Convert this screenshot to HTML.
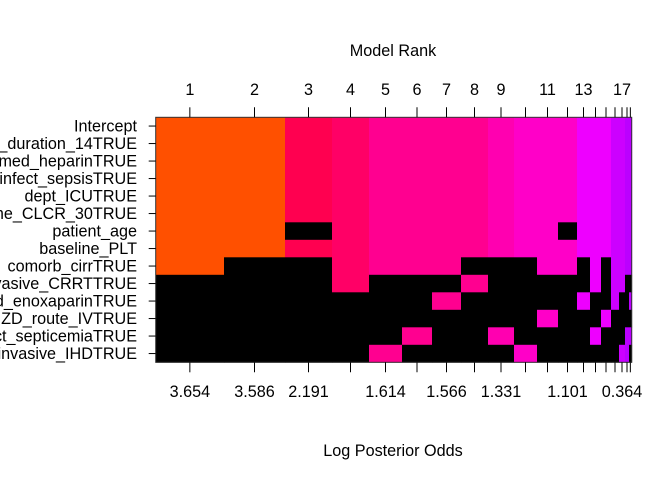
<!DOCTYPE html>
<html><head><meta charset="utf-8"><style>
body{margin:0;background:#fff;}
svg text{font-family:"Liberation Sans",Arial,sans-serif;font-size:16.2px;fill:#000;}
</style></head><body>
<svg id="chart" width="672" height="480" xmlns="http://www.w3.org/2000/svg">
<text x="393" y="56" text-anchor="middle">Model Rank</text>
<text x="393" y="456" text-anchor="middle">Log Posterior Odds</text>
<g id="cells"></g>
<g id="axes"></g>
</svg>
<script>
const variables = ["Intercept","_duration_14TRUE","med_heparinTRUE","infect_sepsisTRUE","dept_ICUTRUE","ne_CLCR_30TRUE","patient_age","baseline_PLT","comorb_cirrTRUE","vasive_CRRTTRUE","d_enoxaparinTRUE","ZD_route_IVTRUE","ct_septicemiaTRUE","invasive_IHDTRUE"];
const modelRanks = [1,2,3,4,5,6,7,8,9,10,11,12,13,14,15,16,17,18,19];
const postProb = [68.3,61,47,37,33,30,29,27,26,23,21,19,13,11,10,8,6,4,2.7];
const logOdds = [3.654,3.586,2.191,1.9,1.614,1.6,1.566,1.45,1.331,1.2,1.15,1.101,0.8,0.7,0.6,0.45,0.364,0.2,0.1];
const colorGroup = ["#ff5000","#ff5000","#ff0050","#ff0066","#ff0090","#ff0090","#ff0090","#ff0090","#ff00b0","#ff00c8","#ff00c8","#ff00c8","#ee00ff","#ee00ff","#ee00ff","#cc00ff","#cc00ff","#bb00ff","#bb00ff"];
const topLabelRanks = [1,2,3,4,5,6,7,8,9,11,13,17];
const bottomLabelRanks = [1,2,3,5,7,9,12,17];
// inclusion[model][variable]
const inclusion = [
 [1,1,1,1,1,1,1,1,1,0,0,0,0,0],
 [1,1,1,1,1,1,1,1,0,0,0,0,0,0],
 [1,1,1,1,1,1,0,1,0,0,0,0,0,0],
 [1,1,1,1,1,1,1,1,1,1,0,0,0,0],
 [1,1,1,1,1,1,1,1,1,0,0,0,0,1],
 [1,1,1,1,1,1,1,1,1,0,0,0,1,0],
 [1,1,1,1,1,1,1,1,1,0,1,0,0,0],
 [1,1,1,1,1,1,1,1,0,1,0,0,0,0],
 [1,1,1,1,1,1,1,1,0,0,0,0,1,0],
 [1,1,1,1,1,1,1,1,0,0,0,0,0,1],
 [1,1,1,1,1,1,1,1,1,0,0,1,0,0],
 [1,1,1,1,1,1,0,1,1,0,0,0,0,0],
 [1,1,1,1,1,1,1,1,0,0,1,0,0,0],
 [1,1,1,1,1,1,1,1,1,1,0,0,1,0],
 [1,1,1,1,1,1,1,1,0,0,0,1,0,0],
 [1,1,1,1,1,1,1,1,1,1,1,0,0,0],
 [1,1,1,1,1,1,1,1,1,1,0,0,0,1],
 [1,1,1,1,1,1,1,1,1,0,0,0,1,1],
 [1,1,1,1,1,1,1,1,1,0,1,0,1,0]
];
const NS="http://www.w3.org/2000/svg";
const L=155.7,R=631.7,T=117.3,B=362.3;
const total=postProb.reduce((a,b)=>a+b,0);
const edges=[0];postProb.forEach(p=>edges.push(edges[edges.length-1]+p));
function xs(c){return L+(R-L)*c/total;}
function ys(i){return T+(B-T)*i/variables.length;}
const cells=document.getElementById('cells'),axes=document.getElementById('axes');
function mk(tag,attrs,parent){const e=document.createElementNS(NS,tag);for(const k in attrs)e.setAttribute(k,attrs[k]);parent.appendChild(e);return e;}
inclusion.forEach((col,m)=>{
 col.forEach((v,i)=>{
  const r=mk('rect',{x:xs(edges[m]),y:ys(i),width:xs(edges[m+1])-xs(edges[m])+0.4,height:ys(i+1)-ys(i)+0.4,fill:v?colorGroup[m]:'#000'},cells);
  
  
 });
});
const frame=mk('rect',{x:L,y:T,width:R-L,height:B-T,fill:'none',stroke:'#333','stroke-width':1},axes);


variables.forEach((v,i)=>{
 const yc=(ys(i)+ys(i+1))/2;
 mk('line',{x1:L-7,x2:L,y1:yc,y2:yc,stroke:'#000'},axes);
 const t=mk('text',{x:137,y:yc+5.5,'text-anchor':'end'},axes);t.textContent=v;
 
 
});
modelRanks.forEach((r,m)=>{
 const xc=(xs(edges[m])+xs(edges[m+1]))/2;
 mk('line',{x1:xc,x2:xc,y1:T-10,y2:T,stroke:'#000'},axes);
 mk('line',{x1:xc,x2:xc,y1:B,y2:B+10,stroke:'#000'},axes);
 if(topLabelRanks.includes(r)){const t=mk('text',{x:xc,y:95,'text-anchor':'middle'},axes);t.textContent=r;
  
  }
 if(bottomLabelRanks.includes(r)){const t=mk('text',{x:xc,y:397,'text-anchor':'middle'},axes);t.textContent=logOdds[m].toFixed(3);
  
  }
});
</script>
</body></html>
